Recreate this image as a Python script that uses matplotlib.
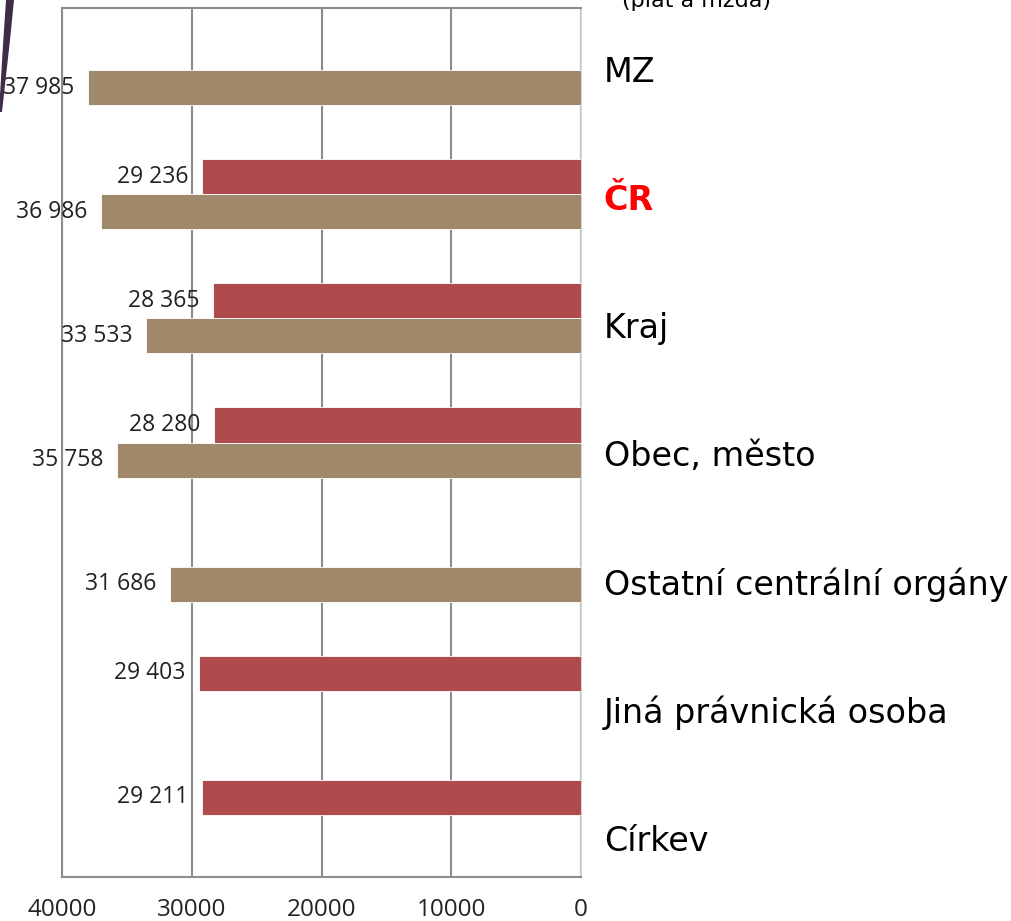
import matplotlib
matplotlib.use("Agg")
import matplotlib.pyplot as plt
from matplotlib.patches import Polygon
import numpy as np

categories = ["MZ", "ČR", "Kraj", "Obec, město", "Ostatní centrální orgány",
              "Jiná právnická osoba", "Církev"]
plat = [None, 29236, 28365, 28280, None, 29403, 29211]      # red series
mzda = [37985, 36986, 33533, 35758, 31686, None, None]      # brown series
xticks = [40000, 30000, 20000, 10000, 0]

RED = "#B04B4D"
BROWN = "#A0886A"
GRID = "#8C8C8C"

fig = plt.figure(figsize=(10.12, 9.21), dpi=100)
ax = fig.add_axes([62 / 1012, 1 - 877 / 921, (581 - 62) / 1012, (877 - 8) / 921])

h = 0.282
y = np.arange(len(categories))
label_font = "Open Sans"

def fmt(v):
    return f"{v:,}".replace(",", " ")

for i, v in enumerate(plat):
    if v is not None:
        ax.barh(y[i] - h / 2, v, height=h, color=RED, edgecolor="white", linewidth=0.6, zorder=3)
        ax.text(v + 1050, y[i] - h / 2, fmt(v), ha="right", va="center",
                fontsize=16.5, family=label_font, color="#222222", zorder=4)
for i, v in enumerate(mzda):
    if v is not None:
        ax.barh(y[i] + h / 2, v, height=h, color=BROWN, edgecolor="white", linewidth=0.6, zorder=3)
        ax.text(v + 1050, y[i] + h / 2, fmt(v), ha="right", va="center",
                fontsize=16.5, family=label_font, color="#222222", zorder=4)

ax.set_xlim(40000, 0)
ax.set_ylim(len(categories) - 0.5, -0.5)
ax.set_xticks(xticks)
ax.set_xticklabels([str(t) for t in xticks], fontsize=17.5, family=label_font, color="#222222")
ax.tick_params(axis="x", length=0, pad=15)
ax.set_yticks([])
ax.grid(axis="x", color=GRID, linewidth=1.5, zorder=1)
for side in ["left", "bottom", "top"]:
    ax.spines[side].set_color(GRID)
    ax.spines[side].set_linewidth(1.5)
ax.spines["right"].set_color("#D0D0D0")
ax.spines["right"].set_linewidth(1.2)

# category names to the right of the plot
for i, name in enumerate(categories):
    ypos = i * 1.032 + 0.02
    if name == "ČR":
        ax.text(1.044, ypos, name, transform=ax.get_yaxis_transform(), fontsize=24,
                family="DejaVu Sans", color="#FF0000", fontweight="bold", va="center", ha="left")
    else:
        ax.text(1.044, ypos, name, transform=ax.get_yaxis_transform(), fontsize=24,
                family="DejaVu Sans", color="black", va="center", ha="left")

fig.text(697 / 1012, 1 - 1 / 921, "(plat a mzda)", ha="center", va="center",
         fontsize=16, family="DejaVu Sans", color="black")

# decorative tapering slide stroke in the top-left corner
px = [(6, 0), (14, 0), (10, 40), (5, 85), (2, 112), (0, 112), (0, 95), (3, 45)]
fig.add_artist(Polygon([(a / 1012, 1 - b / 921) for a, b in px], closed=True,
                       facecolor="#3E2C48", edgecolor="none", transform=fig.transFigure))

fig.savefig("out.png", dpi=100)
